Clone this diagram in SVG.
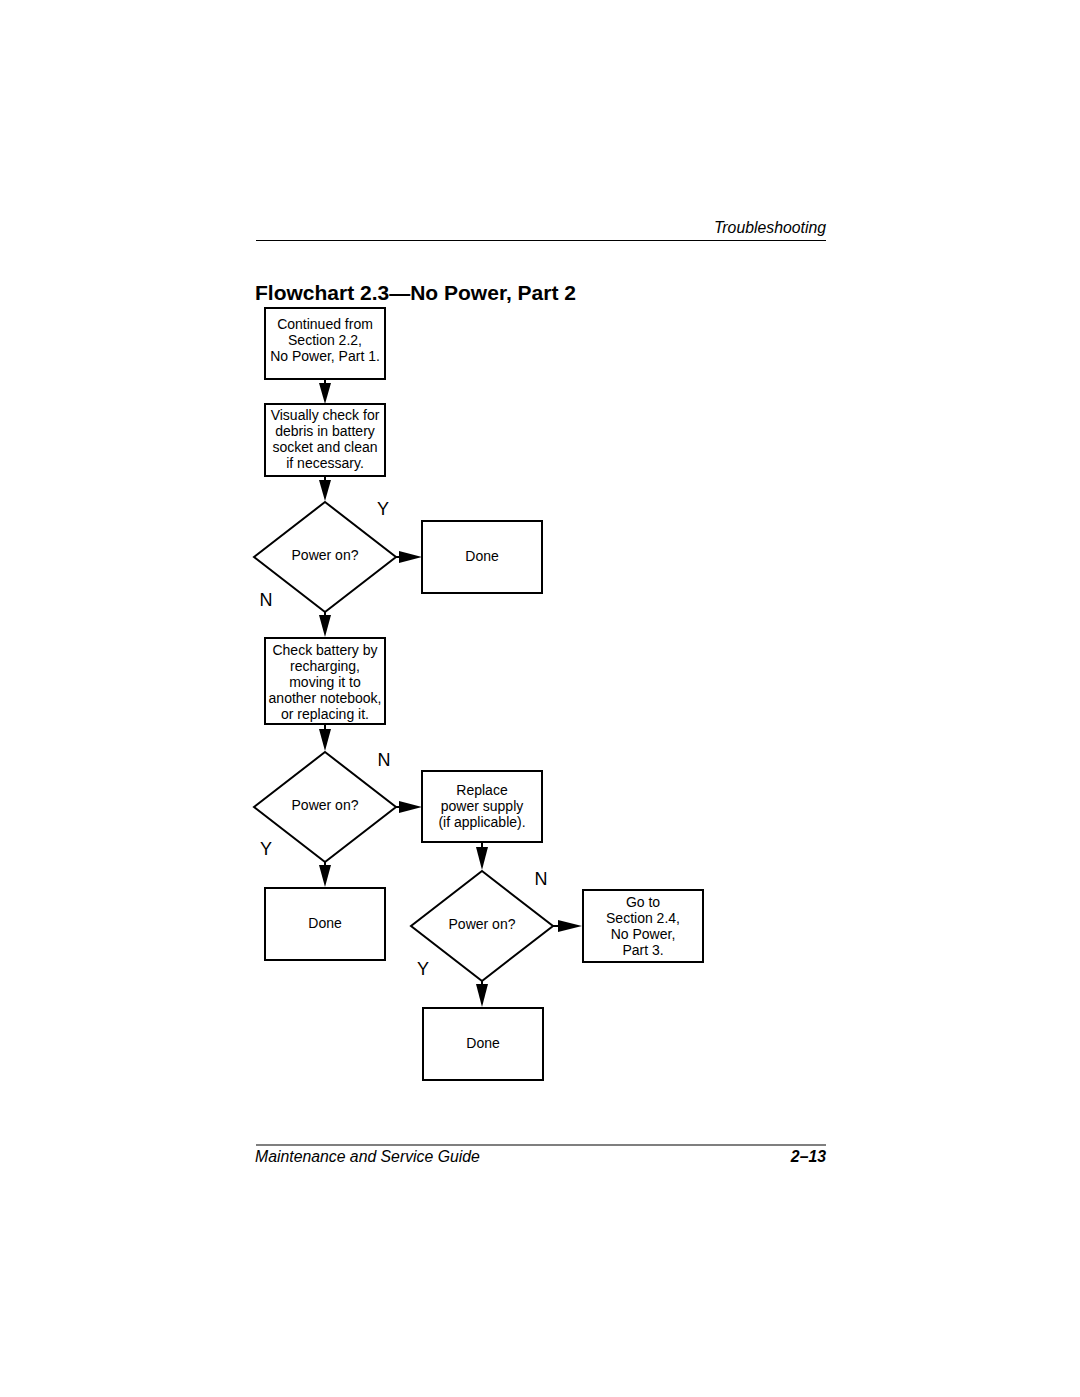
<svg xmlns="http://www.w3.org/2000/svg" width="1080" height="1397" viewBox="0 0 1080 1397">
<defs>
<style>
.box{fill:#fff;stroke:#000;stroke-width:2}
.ln{stroke:#000;stroke-width:2;fill:none}
.ah{fill:#000}
.t{font-family:"Liberation Sans",Arial,sans-serif;font-size:14px;fill:#000;text-anchor:middle}
.yn{font-family:"Liberation Sans",Arial,sans-serif;font-size:18px;fill:#000;text-anchor:middle}
.hd{font-family:"Liberation Sans",Arial,sans-serif;font-size:15.8px;font-style:italic;fill:#000}
</style>
</defs>
<rect width="1080" height="1397" fill="#fff"/>
<g id="header">
<text class="hd" x="826" y="233" text-anchor="end">Troubleshooting</text>
<line x1="256" y1="240.5" x2="826" y2="240.5" stroke="#000" stroke-width="1.2"/>
<text x="255" y="300" font-family="'Liberation Sans',Arial,sans-serif" font-size="21" font-weight="bold">Flowchart 2.3—No Power, Part 2</text>
</g>
<g id="footer">
<line x1="256" y1="1145" x2="826" y2="1145" stroke="#000" stroke-width="1.2"/>
<text class="hd" x="255" y="1162">Maintenance and Service Guide</text>
<text class="hd" x="826" y="1162" text-anchor="end" font-weight="bold">2–13</text>
</g>
<g id="connectors">
<line class="ln" x1="325" y1="379" x2="325" y2="385"/>
<polygon class="ah" points="319,383 331,383 325,404"/>
<line class="ln" x1="325" y1="476" x2="325" y2="482"/>
<polygon class="ah" points="319,480 331,480 325,501"/>
<line class="ln" x1="396" y1="557" x2="401" y2="557"/>
<polygon class="ah" points="399,551 399,563 422,557"/>
<line class="ln" x1="325" y1="612" x2="325" y2="617"/>
<polygon class="ah" points="319,615 331,615 325,637"/>
<line class="ln" x1="325" y1="724" x2="325" y2="731"/>
<polygon class="ah" points="319,729 331,729 325,751"/>
<line class="ln" x1="396" y1="807" x2="401" y2="807"/>
<polygon class="ah" points="399,801 399,813 422,807"/>
<line class="ln" x1="325" y1="862" x2="325" y2="866"/>
<polygon class="ah" points="319,865 331,865 325,887"/>
<line class="ln" x1="482" y1="842" x2="482" y2="849"/>
<polygon class="ah" points="476,847 488,847 482,870"/>
<line class="ln" x1="553" y1="926" x2="560" y2="926"/>
<polygon class="ah" points="558,920 558,932 582,926"/>
<line class="ln" x1="482" y1="981" x2="482" y2="986"/>
<polygon class="ah" points="476,984 488,984 482,1007"/>
<text class="yn" x="383" y="515">Y</text>
<text class="yn" x="266" y="606">N</text>
<text class="yn" x="384" y="766">N</text>
<text class="yn" x="266" y="855">Y</text>
<text class="yn" x="541" y="885">N</text>
<text class="yn" x="423" y="975">Y</text>
</g>
<g id="start">
<rect class="box" x="265" y="308" width="120" height="71"/>
<text class="t" x="325" y="329">Continued from</text>
<text class="t" x="325" y="345">Section 2.2,</text>
<text class="t" x="325" y="361">No Power, Part 1.</text>
</g>
<g id="visual">
<rect class="box" x="265" y="404" width="120" height="72"/>
<text class="t" x="325" y="420">Visually check for</text>
<text class="t" x="325" y="436">debris in battery</text>
<text class="t" x="325" y="452">socket and clean</text>
<text class="t" x="325" y="468">if necessary.</text>
</g>
<g id="dec1">
<polygon class="box" points="325,502 396,557 325,612 254,557"/>
<text class="t" x="325" y="560">Power on?</text>
</g>
<g id="done1">
<rect class="box" x="422" y="521" width="120" height="72"/>
<text class="t" x="482" y="561">Done</text>
</g>
<g id="battery">
<rect class="box" x="265" y="638" width="120" height="86"/>
<text class="t" x="325" y="655">Check battery by</text>
<text class="t" x="325" y="671">recharging,</text>
<text class="t" x="325" y="687">moving it to</text>
<text class="t" x="325" y="703">another notebook,</text>
<text class="t" x="325" y="719">or replacing it.</text>
</g>
<g id="dec2">
<polygon class="box" points="325,752 396,807 325,862 254,807"/>
<text class="t" x="325" y="810">Power on?</text>
</g>
<g id="replace">
<rect class="box" x="422" y="771" width="120" height="71"/>
<text class="t" x="482" y="795">Replace</text>
<text class="t" x="482" y="811">power supply</text>
<text class="t" x="482" y="827">(if applicable).</text>
</g>
<g id="done2">
<rect class="box" x="265" y="888" width="120" height="72"/>
<text class="t" x="325" y="928">Done</text>
</g>
<g id="dec3">
<polygon class="box" points="482,871 553,926 482,981 411,926"/>
<text class="t" x="482" y="929">Power on?</text>
</g>
<g id="goto">
<rect class="box" x="583" y="890" width="120" height="72"/>
<text class="t" x="643" y="907">Go to</text>
<text class="t" x="643" y="923">Section 2.4,</text>
<text class="t" x="643" y="939">No Power,</text>
<text class="t" x="643" y="955">Part 3.</text>
</g>
<g id="done3">
<rect class="box" x="423" y="1008" width="120" height="72"/>
<text class="t" x="483" y="1048">Done</text>
</g>
</svg>
